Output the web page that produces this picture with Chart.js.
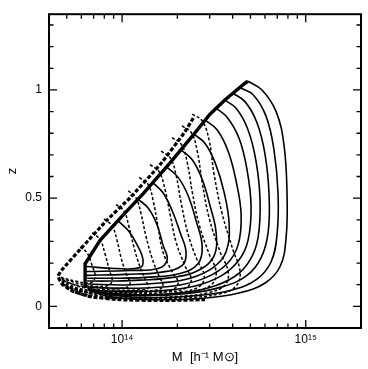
<!DOCTYPE html>
<html>
<head>
<meta charset="utf-8">
<script src="https://cdn.jsdelivr.net/npm/chart.js@4.4.1/dist/chart.umd.min.js"></script>
<style>
  html, body { margin: 0; padding: 0; background: #fff; }
</style>
</head>
<body>
<canvas id="chart" width="368" height="369"></canvas>
<script>
// M in units of 1e14 h^-1 Msun, z redshift. Each loop is a list of [M, z] points.
const solidLoop1 = [[4.85,1.04],[5.78,1.00],[6.90,0.90],[7.62,0.744],[7.91,0.52],[7.82,0.318],[7.25,0.184],[6.01,0.108],[4.39,0.063],[2.66,0.036],[1.42,0.031],[0.86,0.045],[0.653,0.076]];
const solidLoop2 = [[4.39,1.01],[5.17,0.978],[6.08,0.879],[6.72,0.722],[7.07,0.52],[6.98,0.332],[6.48,0.206],[5.43,0.126],[3.97,0.076],[2.50,0.049],[1.42,0.040],[0.86,0.054],[0.653,0.076]];
const solidLoop3 = [[3.97,0.987],[4.67,0.946],[5.43,0.848],[6.01,0.70],[6.32,0.511],[6.24,0.341],[5.71,0.224],[4.79,0.143],[3.50,0.090],[2.20,0.058],[1.33,0.049],[0.84,0.058],[0.653,0.081]];
const solidLoop4 = [[3.59,0.955],[4.18,0.915],[4.85,0.816],[5.37,0.668],[5.64,0.489],[5.50,0.318],[4.98,0.215],[4.12,0.139],[2.94,0.085],[1.83,0.058],[1.18,0.054],[0.81,0.063],[0.653,0.081]];
const solidLoop5 = [[3.21,0.919],[3.73,0.874],[4.34,0.776],[4.79,0.632],[5.04,0.462],[4.85,0.305],[4.34,0.215],[3.50,0.143],[2.50,0.094],[1.61,0.072],[1.04,0.067],[0.76,0.072],[0.653,0.085]];
const solidLoop6 = [[2.83,0.861],[3.29,0.816],[3.78,0.717],[4.18,0.578],[4.45,0.422],[4.28,0.283],[3.73,0.197],[2.90,0.135],[2.07,0.099],[1.33,0.085],[0.86,0.085],[0.653,0.090]];
const solidLoop7 = [[2.44,0.798],[2.83,0.753],[3.21,0.664],[3.59,0.529],[3.83,0.377],[3.68,0.251],[3.13,0.179],[2.35,0.130],[1.61,0.108],[1.04,0.099],[0.653,0.103]];
const solidLoop8 = [[2.07,0.726],[2.41,0.677],[2.73,0.587],[3.01,0.466],[3.25,0.341],[3.17,0.233],[2.66,0.170],[1.94,0.135],[1.25,0.121],[0.86,0.117],[0.645,0.117]];
const solidLoop9 = [[1.74,0.646],[2.02,0.596],[2.29,0.511],[2.53,0.395],[2.73,0.278],[2.59,0.197],[2.07,0.152],[1.42,0.135],[0.975,0.130],[0.645,0.130]];
const solidLoop10 = [[1.46,0.574],[1.67,0.525],[1.87,0.444],[2.07,0.341],[2.23,0.251],[2.12,0.188],[1.61,0.157],[1.04,0.148],[0.637,0.143]];
const solidLoop11 = [[1.21,0.498],[1.39,0.453],[1.55,0.377],[1.67,0.283],[1.76,0.215],[1.57,0.175],[1.105,0.166],[0.637,0.161]];
const solidLoop12 = [[0.951,0.395],[1.08,0.350],[1.21,0.283],[1.30,0.215],[1.25,0.179],[0.916,0.175],[0.637,0.184]];

const dottedLoop1 = [[2.41,0.888],[2.73,0.857],[2.98,0.767],[3.17,0.610],[3.50,0.431],[4.02,0.260],[4.39,0.161],[4.18,0.094],[3.42,0.058],[2.20,0.040],[1.25,0.036],[0.76,0.040],[0.555,0.063],[0.472,0.103]];
const dottedLoop2 = [[2.12,0.834],[2.38,0.803],[2.56,0.722],[2.73,0.574],[2.98,0.408],[3.42,0.251],[3.78,0.161],[3.64,0.099],[2.94,0.063],[1.94,0.045],[1.18,0.040],[0.73,0.049],[0.541,0.072],[0.472,0.103]];
const dottedLoop3 = [[1.87,0.780],[2.10,0.749],[2.26,0.668],[2.41,0.529],[2.63,0.377],[2.98,0.242],[3.25,0.161],[3.09,0.103],[2.50,0.072],[1.71,0.054],[1.04,0.049],[0.695,0.058],[0.534,0.081],[0.472,0.108]];
const dottedLoop4 = [[1.63,0.717],[1.83,0.686],[1.97,0.605],[2.10,0.475],[2.29,0.332],[2.56,0.215],[2.80,0.143],[2.66,0.094],[2.12,0.067],[1.42,0.054],[0.88,0.054],[0.629,0.067],[0.496,0.094],[0.466,0.112]];
const dottedLoop5 = [[1.42,0.655],[1.59,0.623],[1.71,0.543],[1.83,0.422],[1.97,0.296],[2.20,0.188],[2.38,0.126],[2.23,0.085],[1.78,0.067],[1.18,0.058],[0.76,0.063],[0.576,0.076],[0.472,0.112]];
const dottedLoop6 = [[1.24,0.596],[1.39,0.561],[1.48,0.484],[1.57,0.368],[1.67,0.251],[1.87,0.161],[2.02,0.108],[1.87,0.076],[1.46,0.067],[0.975,0.063],[0.67,0.072],[0.521,0.090],[0.466,0.117]];
const dottedLoop7 = [[1.08,0.534],[1.19,0.502],[1.27,0.426],[1.35,0.323],[1.46,0.220],[1.59,0.139],[1.67,0.094],[1.55,0.076],[1.18,0.072],[0.81,0.072],[0.591,0.081],[0.472,0.117]];
const dottedLoop8 = [[0.928,0.471],[1.025,0.439],[1.09,0.368],[1.16,0.274],[1.25,0.184],[1.35,0.117],[1.39,0.085],[1.22,0.076],[0.88,0.076],[0.629,0.085],[0.472,0.121]];
const dottedLoop9 = [[0.798,0.404],[0.882,0.372],[0.939,0.305],[0.988,0.224],[1.05,0.152],[1.105,0.103],[1.025,0.085],[0.76,0.085],[0.555,0.099],[0.466,0.126]];
const dottedLoop10 = [[0.687,0.341],[0.759,0.309],[0.808,0.242],[0.85,0.170],[0.882,0.117],[0.818,0.094],[0.629,0.099],[0.466,0.130]];
const dottedLoop11 = [[0.591,0.274],[0.645,0.247],[0.687,0.188],[0.713,0.135],[0.67,0.108],[0.555,0.117],[0.46,0.135]];

// thick envelopes
const boldEdge = [[0.629,0.085],[0.629,0.197],[0.759,0.305],[1.0,0.417],[1.30,0.52],[1.83,0.664],[2.50,0.803],[3.01,0.888],[3.64,0.955],[4.67,1.031],[4.85,1.04]];
const dottedEdge = [[2.44,0.870],[2.20,0.807],[1.61,0.655],[1.105,0.502],[0.829,0.399],[0.613,0.278],[0.472,0.170],[0.448,0.139],[0.472,0.103],[0.534,0.072],[0.670,0.045],[0.975,0.031],[1.61,0.027],[2.83,0.031]];

// axis ticks
const xTickLabels = { 1: '10\u00b9\u2074', 10: '10\u00b9\u2075' };
const xMajorTicks = [1, 10];
const xMinorTicks = [0.5, 0.6, 0.7, 0.8, 0.9, 2, 3, 4, 5, 6, 7, 8, 9];
const yMajorTicks = [0, 0.5, 1];
const yMinorTicks = [0.1, 0.2, 0.3, 0.4, 0.6, 0.7, 0.8, 0.9, 1.1, 1.2, 1.3];

const solidLoops = [solidLoop1, solidLoop2, solidLoop3, solidLoop4, solidLoop5, solidLoop6,
  solidLoop7, solidLoop8, solidLoop9, solidLoop10, solidLoop11, solidLoop12];
const dottedLoops = [dottedLoop1, dottedLoop2, dottedLoop3, dottedLoop4, dottedLoop5, dottedLoop6,
  dottedLoop7, dottedLoop8, dottedLoop9, dottedLoop10, dottedLoop11];

function toPoints(list) {
  return list.map(p => ({ x: p[0], y: p[1] }));
}

function lineSet(list, width, dash, tension) {
  return {
    data: toPoints(list),
    showLine: true,
    borderColor: '#000',
    borderWidth: width,
    borderDash: dash,
    pointRadius: 0,
    tension: tension,
    fill: false
  };
}

const datasets = [];
dottedLoops.forEach(l => datasets.push(lineSet(l, 1.5, [3, 2], 0.4)));
solidLoops.forEach(l => datasets.push(lineSet(l, 1.6, [], 0.4)));
datasets.push(lineSet(dottedEdge, 3.2, [4, 2], 0.15));
datasets.push(lineSet(boldEdge, 3.4, [], 0));

// box with inward ticks on all four sides
const frameTicks = {
  id: 'frameTicks',
  afterDraw(chart) {
    const { ctx, chartArea: a, scales: { x, y } } = chart;
    ctx.save();
    ctx.strokeStyle = '#000';
    ctx.lineWidth = 1.3;
    ctx.beginPath();
    const xt = (v, len) => {
      const px = x.getPixelForValue(v);
      ctx.moveTo(px, a.bottom); ctx.lineTo(px, a.bottom - len);
      ctx.moveTo(px, a.top); ctx.lineTo(px, a.top + len);
    };
    const yt = (v, len) => {
      const py = y.getPixelForValue(v);
      ctx.moveTo(a.left, py); ctx.lineTo(a.left + len, py);
      ctx.moveTo(a.right, py); ctx.lineTo(a.right - len, py);
    };
    xMajorTicks.forEach(v => xt(v, 8));
    xMinorTicks.forEach(v => xt(v, 4.5));
    yMajorTicks.forEach(v => yt(v, 8));
    yMinorTicks.forEach(v => yt(v, 4.5));
    ctx.stroke();
    ctx.lineWidth = 2;
    ctx.strokeRect(a.left, a.top, a.right - a.left, a.bottom - a.top);
    ctx.restore();
  }
};

const family = '"Liberation Sans", Arial, sans-serif';

new Chart(document.getElementById('chart'), {
  type: 'scatter',
  data: { datasets: datasets },
  options: {
    responsive: false,
    animation: false,
    devicePixelRatio: 1,
    layout: { padding: { left: 0, right: 7, top: 5, bottom: 0 } },
    plugins: { legend: { display: false }, tooltip: { enabled: false } },
    scales: {
      x: {
        type: 'logarithmic',
        min: 0.4,
        max: 20,
        grid: { display: false, drawTicks: false },
        border: { display: false },
        afterBuildTicks: s => { s.ticks = xMajorTicks.map(v => ({ value: v })); },
        afterFit: s => { s.height = 41; },
        ticks: {
          autoSkip: false,
          maxRotation: 0,
          padding: 4,
          color: '#000',
          font: { family: family, size: 12 },
          callback: v => xTickLabels[v] || ''
        },
        title: {
          display: true,
          text: 'M  [h\u207b\u00b9 M\u2299]',
          color: '#000',
          font: { family: family, size: 13 },
          padding: { top: 0, bottom: 4 }
        }
      },
      y: {
        min: -0.1,
        max: 1.35,
        grid: { display: false, drawTicks: false },
        border: { display: false },
        afterBuildTicks: s => { s.ticks = yMajorTicks.map(v => ({ value: v })); },
        afterFit: s => { s.width = 49; },
        ticks: {
          padding: 7,
          color: '#000',
          font: { family: family, size: 12 },
          callback: v => String(v)
        },
        title: {
          display: true,
          text: 'z',
          color: '#000',
          font: { family: family, size: 13 },
          padding: { top: 5, bottom: 0 }
        }
      }
    }
  },
  plugins: [frameTicks]
});
</script>
</body>
</html>
